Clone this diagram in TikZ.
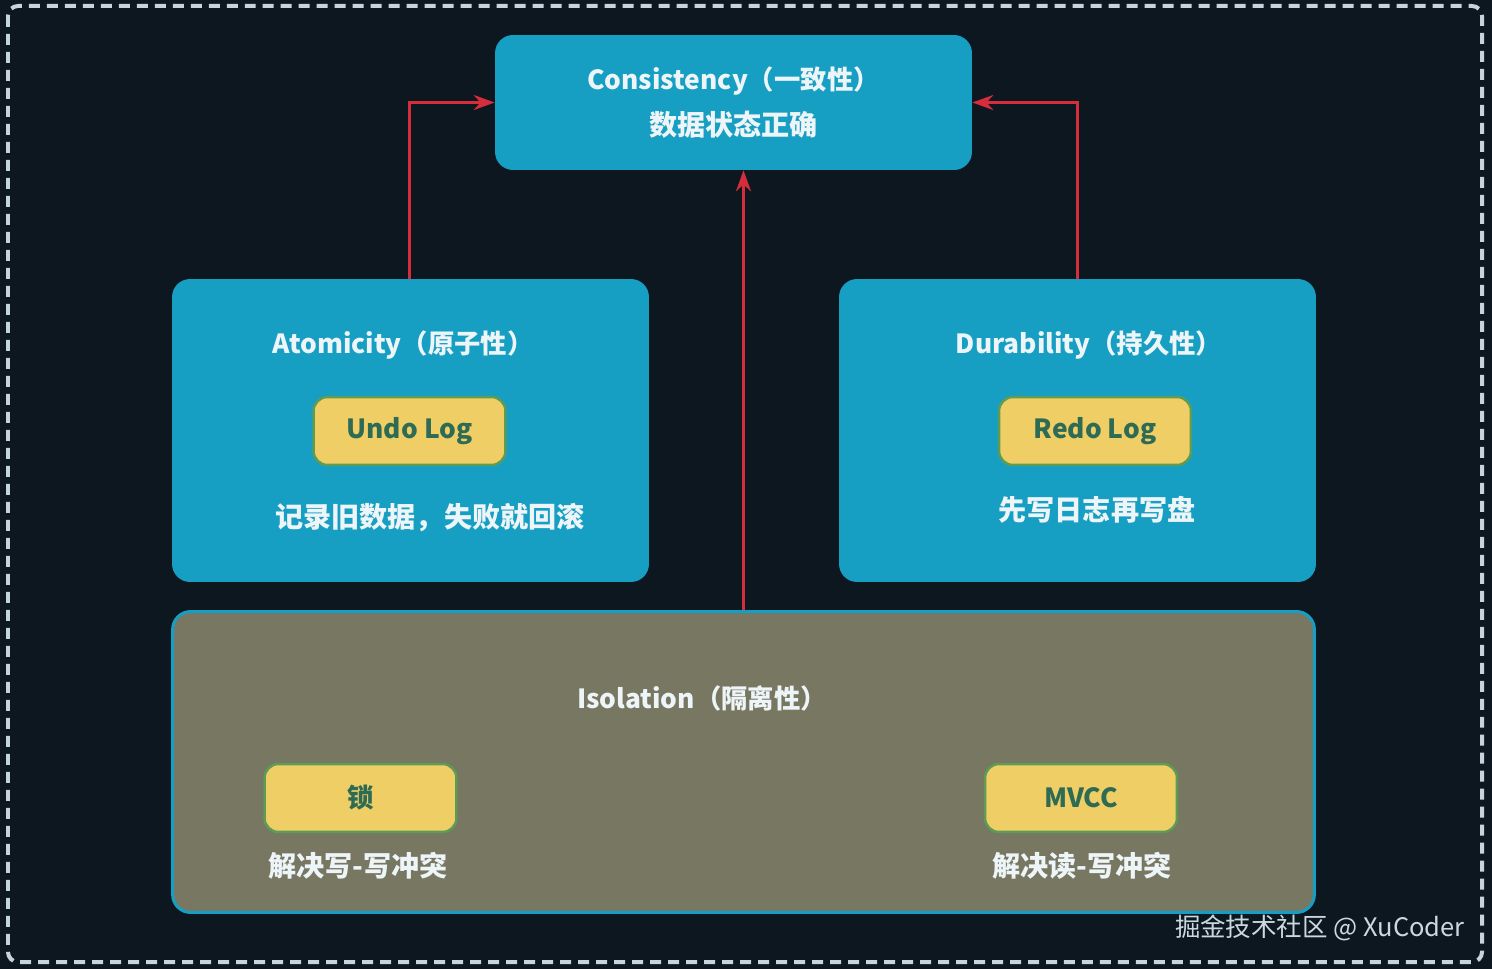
\documentclass[tikz,border=0pt]{standalone}
\usepackage{fontspec}
\setmainfont{Noto Sans CJK SC}
\usepackage{tikz}
\usetikzlibrary{arrows.meta,positioning}
\definecolor{acbg}{HTML}{0D1720}
\definecolor{acteal}{HTML}{179FC3}
\definecolor{acolive}{HTML}{787762}
\definecolor{acpill}{HTML}{F0CE66}
\definecolor{acpilledge}{HTML}{5E9B55}
\definecolor{acpilltext}{HTML}{2E6B54}
\definecolor{acred}{HTML}{D62D3C}
\definecolor{acwhite}{HTML}{EEF5F8}
\definecolor{acframe}{HTML}{C5D5DC}

\begin{document}
\begin{tikzpicture}[x=0.02cm,y=-0.02cm,
  bigbox/.style={fill=acteal,rounded corners=0.36cm,minimum width=9.54cm,minimum height=6.06cm},
  isobox/.style={draw=acteal,fill=acolive,line width=0.06cm,rounded corners=0.36cm,
    minimum width=22.84cm,minimum height=6.02cm},
  pill/.style={draw=acpilledge,fill=acpill,line width=0.05cm,rounded corners=0.28cm,
    minimum width=3.84cm,minimum height=1.36cm,text=acpilltext,
    font=\fontsize{15}{18}\selectfont\bfseries},
  head/.style={text=acwhite,font=\fontsize{15}{18}\selectfont\bfseries,inner sep=0pt},
  desc/.style={text=acwhite,font=\fontsize{16}{19}\selectfont\bfseries,inner sep=0pt},
  arr/.style={-{Stealth[length=0.42cm,width=0.3cm]},acred,line width=0.06cm}]
\fill[acbg] (0,0) rectangle (1492,969);
\useasboundingbox (0,0) rectangle (1492,969);
\draw[acframe,line width=0.08cm,dash pattern=on 0.22cm off 0.14cm,rounded corners=0.2cm]
  (8,6) rectangle (1482,962);
% top
\node[bigbox,minimum height=2.7cm,align=center,text=acwhite,
  font=\fontsize{15}{26}\selectfont\bfseries] (cons) at (733.5,102.5)
  {Consistency（一致性）\\{\fontsize{16}{26}\selectfont 数据状态正确}};
% atomicity
\node[bigbox] (atom) at (410.5,430.5) {};
\node[head] (atomhead) at (403,345) {Atomicity（原子性）};
\node[pill] (undo) at (409.5,431) {Undo Log};
\node[desc] (atomdesc) at (430,518) {记录旧数据，失败就回滚};
% durability
\node[bigbox] (dura) at (1077.5,430.5) {};
\node[head] (durahead) at (1089,345) {Durability（持久性）};
\node[pill] (redo) at (1095,431) {Redo Log};
\node[desc] (duradesc) at (1097,510) {先写日志再写盘};
% isolation
\node[isobox] (iso) at (743.5,762) {};
\node[head] (isohead) at (702,698) {Isolation（隔离性）};
\node[pill] (lock) at (360.5,798) {锁};
\node[desc] (lockdesc) at (358,866) {解决写-写冲突};
\node[pill] (mvcc) at (1081,798) {MVCC};
\node[desc] (mvccdesc) at (1082,866) {解决读-写冲突};
% arrows
\draw[arr] (atom.north -| undo) |- (cons.west);
\draw[arr] (dura.north) |- (cons.east);
\draw[arr] (iso.north) -- (iso.north |- cons.south);
\node[anchor=east,text=acframe!90,font=\fontsize{14.5}{18}\selectfont,inner sep=0pt]
  (mark) at (1465,928) {掘金技术社区 @ XuCoder};
\end{tikzpicture}
\end{document}
